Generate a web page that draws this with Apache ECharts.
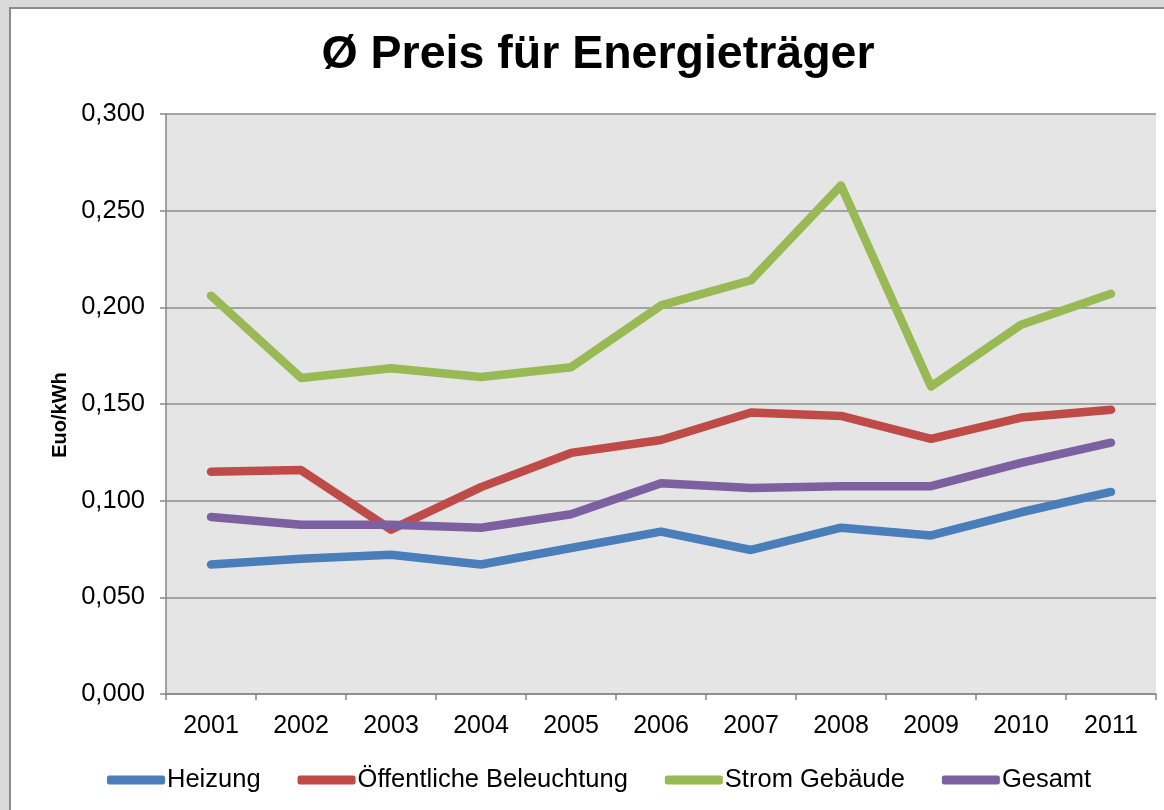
<!DOCTYPE html>
<html>
<head>
<meta charset="utf-8">
<script src="https://cdn.jsdelivr.net/npm/echarts@6/dist/echarts.min.js"></script>
<style>
    html, body { margin: 0; padding: 0; background: #dadada; }
    #frame {
        position: absolute; left: 9px; top: 7px; width: 1200px; height: 850px;
        background: #ffffff; border-left: 2px solid #8c8c8c; border-top: 2px solid #8c8c8c;
    }
    #container { position: absolute; left: 0; top: 0; width: 1164px; height: 810px; }
</style>
</head>
<body>
<div id="frame"></div>
<div id="container"></div>
<script type="text/javascript">
    // Jahre und Durchschnittspreise (Euro/kWh)
    var years = ['2001', '2002', '2003', '2004', '2005', '2006', '2007', '2008', '2009', '2010', '2011'];
    var heizung = [0.067, 0.070, 0.072, 0.067, 0.0755, 0.084, 0.0745, 0.086, 0.082, 0.094, 0.1045];
    var beleuchtung = [0.115, 0.1158, 0.085, 0.107, 0.1247, 0.1314, 0.1456, 0.1438, 0.132, 0.143, 0.147];
    var stromGebaeude = [0.206, 0.1635, 0.1685, 0.164, 0.169, 0.201, 0.214, 0.263, 0.159, 0.191, 0.207];
    var gesamt = [0.0915, 0.0875, 0.0875, 0.086, 0.093, 0.109, 0.1066, 0.1075, 0.1075, 0.1195, 0.130];

    var seriesNames = ['Heizung', 'Öffentliche Beleuchtung', 'Strom Gebäude', 'Gesamt'];
    var seriesColors = ['#4a7ebb', '#be4b48', '#98b954', '#7d60a0'];
    var seriesData = [heizung, beleuchtung, stromGebaeude, gesamt];

    var dom = document.getElementById("container");
    var myChart = echarts.init(dom);

    var series = [];
    for (var i = 0; i < seriesNames.length; i++) {
        series.push({
            name: seriesNames[i],
            type: 'line',
            symbol: 'none',
            data: seriesData[i],
            itemStyle: { color: seriesColors[i] },
            lineStyle: { width: 8.5, color: seriesColors[i], cap: 'round', join: 'round' }
        });
    }

    var option = {
        animation: false,
        textStyle: { fontFamily: 'Liberation Sans, Arial, sans-serif' },
        title: {
            text: 'Ø Preis für Energieträger',
            left: 593,
            top: 27,
            textAlign: 'center',
            textStyle: { fontSize: 46.5, fontWeight: 'bold', color: '#000' }
        },
        graphic: [{
            type: 'text',
            x: 60,
            y: 415,
            rotation: Math.PI / 2,
            style: {
                text: 'Euo/kWh',
                fontSize: 20,
                fontWeight: 'bold',
                fontFamily: 'Liberation Sans, Arial, sans-serif',
                fill: '#000',
                align: 'center',
                verticalAlign: 'middle'
            }
        }],
        legend: {
            data: seriesNames,
            left: 107,
            top: 767,
            padding: 0,
            icon: 'roundRect',
            itemWidth: 58,
            itemHeight: 9,
            itemGap: 37,
            textStyle: { fontSize: 25.5, color: '#000', padding: [0, 0, 0, -3] }
        },
        grid: {
            left: 166,
            right: 8,
            top: 114,
            bottom: 116,
            show: true,
            backgroundColor: '#e5e5e5',
            borderWidth: 0
        },
        xAxis: {
            type: 'category',
            data: years,
            boundaryGap: true,
            axisLine: { lineStyle: { color: '#868686', width: 1.5 } },
            axisTick: { show: true, length: 6, lineStyle: { color: '#868686', width: 1.5 } },
            axisLabel: { fontSize: 25, color: '#000', margin: 20 }
        },
        yAxis: {
            type: 'value',
            min: 0,
            max: 0.3,
            interval: 0.05,
            axisLine: { show: true, lineStyle: { color: '#868686', width: 1.5 } },
            axisTick: { show: true, length: 6, lineStyle: { color: '#868686', width: 1.5 } },
            splitLine: { lineStyle: { color: '#8c8c8c', width: 1.5 } },
            axisLabel: {
                fontSize: 25.5,
                color: '#000',
                margin: 21,
                formatter: function (v) { return v.toFixed(3).replace('.', ','); }
            }
        },
        series: series
    };

    myChart.setOption(option);
</script>
</body>
</html>
